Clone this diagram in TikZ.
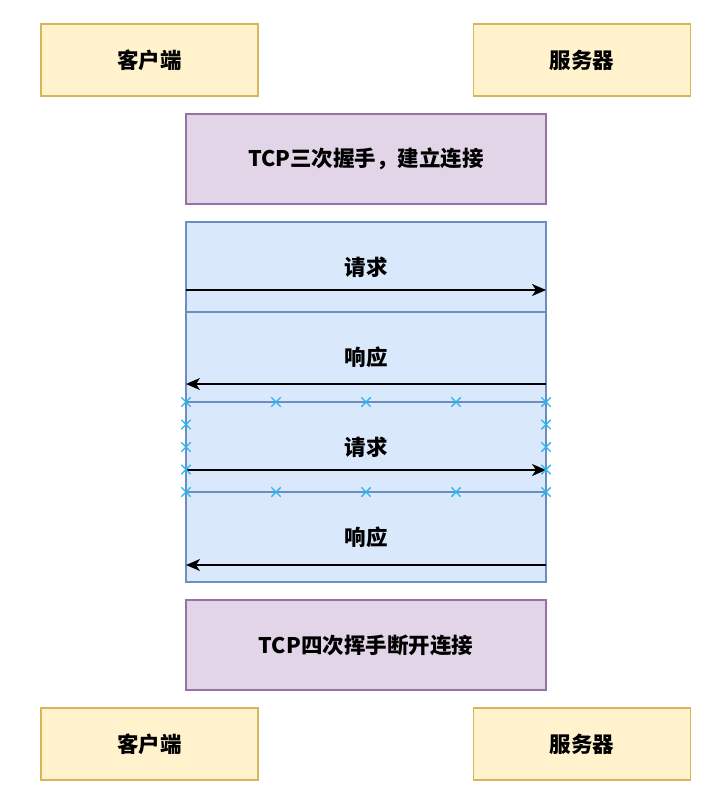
\documentclass[tikz,border=0pt]{standalone}
\usepackage{fontspec}
\newfontfamily\cjk{Noto Sans CJK SC}
\usetikzlibrary{arrows.meta,positioning,shapes.misc,calc}
\definecolor{yellowfill}{HTML}{FFF2CC}
\definecolor{yellowline}{HTML}{D6B656}
\definecolor{purplefill}{HTML}{E1D5E7}
\definecolor{purpleline}{HTML}{9673A6}
\definecolor{bluefill}{HTML}{DAE8FC}
\definecolor{blueline}{HTML}{6C8EBF}
\definecolor{hintblue}{HTML}{29B6F2}

\begin{document}
\begin{tikzpicture}[x=1pt,y=1pt,node distance=18pt,>={Stealth[length=14pt,width=12pt,inset=4pt]},
    font=\cjk\bfseries\fontsize{21.5}{25}\selectfont]
  \tikzstyle{role}=[rectangle,draw=yellowline,fill=yellowfill,line width=1.5pt,outer sep=0pt,minimum width=217pt,minimum height=72pt]
  \tikzstyle{phase}=[rectangle,draw=purpleline,fill=purplefill,line width=1.5pt,outer sep=0pt,minimum width=360pt,minimum height=90pt]
  \tikzstyle{msg}=[rectangle,draw=blueline,fill=bluefill,line width=1.5pt,outer sep=0pt,minimum width=360pt,minimum height=90pt]
  \tikzstyle{hint}=[cross out,draw=hintblue,line width=1.4pt,minimum size=8pt,inner sep=0pt]

    \useasboundingbox (0,0) rectangle (723,-808);

    \node [role] (cli1) at (149.5,-60) {客户端};
    \node [role] (srv1) at (582,-60) {服务器};
    \node [phase] (shake) at (366,-159) {TCP三次握手，建立连接};
    \node [msg] (req1) [below=of shake] {请求};
    \node [msg] (resp1) [below=0pt of req1] {响应};
    \node [msg] (req2) [below=0pt of resp1] {请求};
    \node [msg] (resp2) [below=0pt of req2] {响应};
    \node [phase] (wave) [below=of resp2] {TCP四次挥手断开连接};
    \node [role] (cli2) at (149.5,-744) {客户端};
    \node [role] (srv2) at (582,-744) {服务器};

    % messages
    \draw [->,line width=1.5pt] ([yshift=22pt]req1.south west) -- ([yshift=22pt]req1.south east);
    \draw [->,line width=1.5pt] ([yshift=18pt]resp1.south east) -- ([yshift=18pt]resp1.south west);
    \draw [->,line width=1.5pt] ([yshift=22pt]req2.south west) -- ([yshift=22pt]req2.south east);
    \draw [->,line width=1.5pt] ([yshift=17pt]resp2.south east) -- ([yshift=17pt]resp2.south west);

    % selection points
    \foreach \f in {0,0.25,0.5,0.75,1} {
      \node [hint] at ($(req2.north west)!\f!(req2.north east)$) {};
      \node [hint] at ($(req2.south west)!\f!(req2.south east)$) {};
    }
    \foreach \f in {0.25,0.5,0.75} {
      \node [hint] at ($(req2.north west)!\f!(req2.south west)$) {};
      \node [hint] at ($(req2.north east)!\f!(req2.south east)$) {};
    }
\end{tikzpicture}
\end{document}
